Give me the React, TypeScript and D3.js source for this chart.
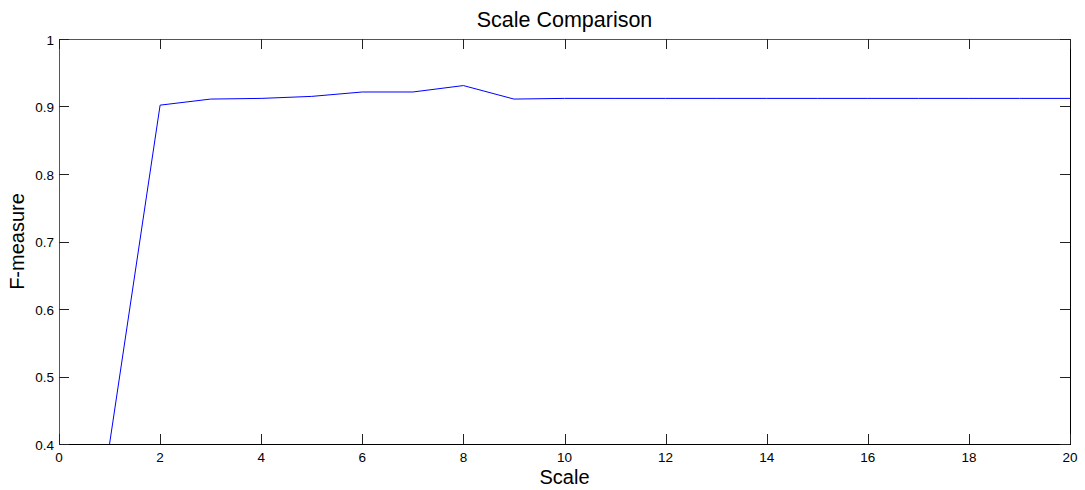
import React from "react";
import * as d3 from "d3";

const scales = [1, 2, 3, 4, 5, 6, 7, 8, 9, 10, 11, 12, 13, 14, 15, 16, 17, 18, 19, 20];
const fMeasure = [0.4, 0.902, 0.911, 0.912, 0.915, 0.9215, 0.9215, 0.931, 0.911, 0.912, 0.912, 0.912, 0.912, 0.912, 0.912, 0.912, 0.912, 0.912, 0.912, 0.912];
const xTicks = [0, 2, 4, 6, 8, 10, 12, 14, 16, 18, 20];
const yTicks = [0.4, 0.5, 0.6, 0.7, 0.8, 0.9, 1];

export default function App() {
  const W = 1085, H = 490;
  const left = 59, right = 1070, top = 39, bottom = 444;
  const x = d3.scaleLinear().domain([0, 20]).range([left, right]);
  const y = d3.scaleLinear().domain([0.4, 1]).range([bottom, top]);
  const line = d3.line<number>().x((_, i) => x(scales[i])).y((d) => y(d));
  const font = "Liberation Sans, Arial, sans-serif";
  const tl = 10;
  return (
    <svg width={W} height={H} style={{ position: "absolute", left: 0, top: 0, background: "#fff" }} fontFamily={font}>
      <rect x={0} y={0} width={W} height={H} fill="#fff" />
      <defs>
        <clipPath id="plot"><rect x={left} y={top} width={right - left} height={bottom - top} /></clipPath>
      </defs>
      <path d={line(fMeasure) || ""} fill="none" stroke="#0000ff" strokeWidth={1} clipPath="url(#plot)" />
      <line x1={left} y1={top + 0.5} x2={right} y2={top + 0.5} stroke="#555" />
      <line x1={left + 0.5} y1={top} x2={left + 0.5} y2={bottom} stroke="#555" />
      <line x1={left} y1={bottom + 0.5} x2={right + 1} y2={bottom + 0.5} stroke="#000" />
      <line x1={right + 0.5} y1={top} x2={right + 0.5} y2={bottom} stroke="#000" />
      {xTicks.map((t) => (
        <g key={"x" + t}>
          <line x1={Math.round(x(t)) + 0.5} x2={Math.round(x(t)) + 0.5} y1={bottom} y2={bottom - tl} stroke="#222" />
          <line x1={Math.round(x(t)) + 0.5} x2={Math.round(x(t)) + 0.5} y1={top} y2={top + tl} stroke="#222" />
          <text x={x(t)} y={462} textAnchor="middle" fontSize={13.5} fill="#000">{t}</text>
        </g>
      ))}
      {yTicks.map((t) => (
        <g key={"y" + t}>
          <line x1={left} x2={left + tl} y1={Math.round(y(t)) + 0.5} y2={Math.round(y(t)) + 0.5} stroke="#222" />
          <line x1={right} x2={right - tl} y1={Math.round(y(t)) + 0.5} y2={Math.round(y(t)) + 0.5} stroke="#222" />
          <text x={54} y={y(t) + 5.5} textAnchor="end" fontSize={13.5} fill="#000">{String(t)}</text>
        </g>
      ))}
      <text x={(left + right) / 2} y={27} textAnchor="middle" fontSize={21.5} fill="#000">Scale Comparison</text>
      <text x={(left + right) / 2} y={484} textAnchor="middle" fontSize={20} fill="#000">Scale</text>
      <text transform={`translate(24,${(top + bottom) / 2}) rotate(-90)`} textAnchor="middle" fontSize={20} fill="#000">F-measure</text>
    </svg>
  );
}
